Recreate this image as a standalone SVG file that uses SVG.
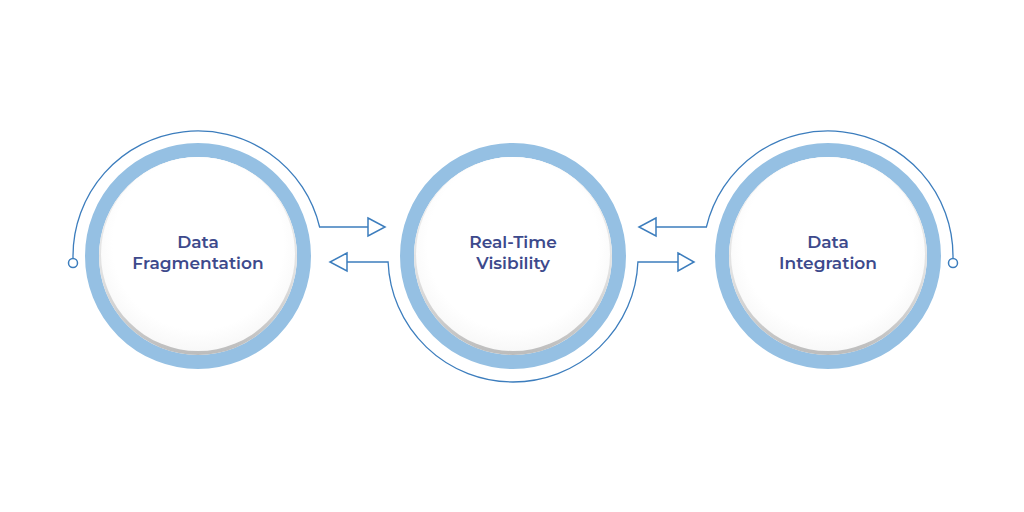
<svg xmlns="http://www.w3.org/2000/svg" width="1024" height="512" viewBox="0 0 1024 512">
<defs>
<linearGradient id="shade" x1="0" y1="0" x2="0" y2="1">
<stop offset="0" stop-color="#f4f4f4"/>
<stop offset="0.6" stop-color="#e0e0e0"/>
<stop offset="1" stop-color="#bcbcbc"/>
</linearGradient>
<radialGradient id="face" cx="0.5" cy="0.45" r="0.55">
<stop offset="0.8" stop-color="#ffffff"/>
<stop offset="1" stop-color="#f8f8f8"/>
</radialGradient>
</defs>
<style>
.ring{fill:none;stroke:#95c0e3;stroke-width:14}
.shade{fill:url(#shade)}
.face{fill:url(#face)}
.lbl{font-family:"Montserrat","Open Sans","Liberation Sans",sans-serif;font-weight:600;font-size:17px;fill:#3d4a8c;text-anchor:middle}
.con{fill:none;stroke:#3c7dbd;stroke-width:1.3}
.head{fill:#ffffff;stroke:#3c7dbd;stroke-width:1.5;stroke-linejoin:miter}
</style>
<rect width="1024" height="512" fill="#ffffff"/>
<g id="connectors">
<path class="con" d="M 73 259 L 73 256 A 125 125 0 0 1 319.6 227 L 368 227"/>
<circle class="head" cx="73" cy="263" r="4.5" stroke-width="1.3"/>
<polygon class="head" points="368,218 385,227 368,236"/>
<path class="con" d="M 347 262 L 388.1 262 A 125 125 0 0 0 637.9 262 L 678 262"/>
<polygon class="head" points="347,253 330,262 347,271"/>
<polygon class="head" points="678,253 694,262 678,271"/>
<path class="con" d="M 656 227 L 706.4 227 A 125 125 0 0 1 953 256 L 953 259"/>
<polygon class="head" points="656,218 639,227 656,236"/>
<circle class="head" cx="953" cy="263" r="4.5" stroke-width="1.3"/>
</g>
<g id="node-fragmentation">
<circle class="ring" cx="198" cy="256" r="106"/>
<circle class="shade" cx="198" cy="256" r="99"/>
<circle class="face" cx="198" cy="254" r="97"/>
<text class="lbl" x="198" y="248">Data</text>
<text class="lbl" x="198" y="269">Fragmentation</text>
</g>
<g id="node-visibility">
<circle class="ring" cx="513" cy="256" r="106"/>
<circle class="shade" cx="513" cy="256" r="99"/>
<circle class="face" cx="513" cy="254" r="97"/>
<text class="lbl" x="513" y="248">Real-Time</text>
<text class="lbl" x="513" y="269">Visibility</text>
</g>
<g id="node-integration">
<circle class="ring" cx="828" cy="256" r="106"/>
<circle class="shade" cx="828" cy="256" r="99"/>
<circle class="face" cx="828" cy="254" r="97"/>
<text class="lbl" x="828" y="248">Data</text>
<text class="lbl" x="828" y="269">Integration</text>
</g>
</svg>
